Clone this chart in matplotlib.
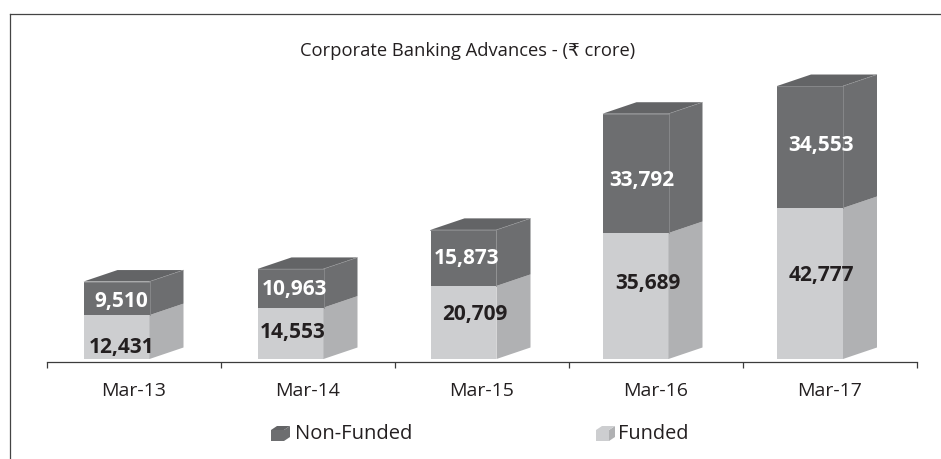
import matplotlib
matplotlib.use('Agg')
import matplotlib.pyplot as plt
from matplotlib.lines import Line2D
from matplotlib.patches import Polygon

W, H = 941, 459

months = ['Mar-13', 'Mar-14', 'Mar-15', 'Mar-16', 'Mar-17']
funded = [12431, 14553, 20709, 35689, 42777]
non_funded = [9510, 10963, 15873, 33792, 34553]

# label offsets from the middle of each segment, pixels
funded_offsets = [(-12, -10), (-15, 1), (-7, 8), (-8, 13), (-9, 8)]
non_funded_offsets = [(-13, -3), (-14, -1), (-15, -1), (-14, -7), (-9, 2)]
# the boxes drift left a little in the original
box_drift = [0, 0, -1, -3, -2.5]

DARK_FRONT = '#6d6e70'
DARK_TOP = '#636466'
LIGHT_FRONT = '#cdced0'
LIGHT_SIDE = '#b0b1b3'
TEXT = '#231f20'

plt.rcParams['font.family'] = ['Open Sans', 'DejaVu Sans']


def fx(px):
    return px / W


def fy(py):
    return 1 - py / H


fig = plt.figure(figsize=(W / 100, H / 100), dpi=100)
ax = fig.add_axes([fx(47), fy(359), fx(870), 345 / H])
px_per_unit = 0.00353
ax.set_xlim(-0.5, 4.5)
ax.set_ylim(0, 345 / px_per_unit)

bar_w = 66 / 174
depth_x = 34 / 174
depth_y = 11.5 / px_per_unit
shift = -17.5 / 174  # the front face sits left of the category centre


def draw_box(i, bottom, height, front, side, top=None):
    centre = i + shift + box_drift[i] / 174
    left = centre - bar_w / 2
    right = left + bar_w
    y1 = bottom + height
    ax.bar(centre, height, bar_w, bottom=bottom, color=front, linewidth=0, zorder=2)
    ax.add_patch(Polygon([(right, bottom), (right + depth_x, bottom + depth_y),
                          (right + depth_x, y1 + depth_y), (right, y1)],
                         facecolor=side, edgecolor='none', zorder=2))
    if top is not None:
        ax.add_patch(Polygon([(left, y1), (right, y1), (right + depth_x, y1 + depth_y),
                              (left + depth_x, y1 + depth_y)],
                             facecolor=top, edgecolor='none', zorder=2))
        # pale edges of the box
        ax.plot([right, right], [bottom, y1], color='#8a8b8d', lw=0.6, zorder=3)
        ax.plot([left, right], [y1, y1], color='#8a8b8d', lw=0.6, zorder=3)
        ax.plot([right, right + depth_x], [y1, y1 + depth_y], color='#9a9b9d', lw=0.5,
                ls=(0, (2, 1)), zorder=3)


for i in range(len(months)):
    draw_box(i, 0, funded[i], LIGHT_FRONT, LIGHT_SIDE)
    draw_box(i, funded[i], non_funded[i], DARK_FRONT, DARK_FRONT, DARK_TOP)
    ax.annotate(f'{funded[i]:,}', (i, funded[i] / 2), xytext=funded_offsets[i],
                textcoords='offset pixels', ha='center', va='center',
                fontsize=15, fontweight='bold', color=TEXT, zorder=4)
    ax.annotate(f'{non_funded[i]:,}', (i, funded[i] + non_funded[i] / 2),
                xytext=non_funded_offsets[i], textcoords='offset pixels',
                ha='center', va='center', fontsize=15, fontweight='bold',
                color='white', zorder=4)

for s in ['top', 'left', 'right']:
    ax.spines[s].set_visible(False)
ax.spines['bottom'].set_position(('outward', 1.8))
ax.spines['bottom'].set_color('#3c3c3c')
ax.spines['bottom'].set_linewidth(0.9)
ax.set_yticks([])
ax.set_xticks([i - 0.5 for i in range(len(months) + 1)])
ax.set_xticklabels([])
ax.tick_params(axis='x', which='major', length=4.3, width=0.9, color='#3c3c3c')
ax.set_xticks(range(len(months)), minor=True)
ax.set_xticklabels(months, minor=True, fontsize=14, color=TEXT)
ax.tick_params(axis='x', which='minor', length=0, pad=15)

# outer frame: left and top edges only
frame = dict(color='#444444', lw=0.9, transform=fig.transFigure)
fig.add_artist(Line2D([fx(9.5), fx(9.5)], [0, fy(14)], **frame))
fig.add_artist(Line2D([fx(9.5), 1], [fy(14), fy(14)], **frame))

fig.text(fx(468), fy(51), 'Corporate Banking Advances - (₹ crore)', ha='center', va='center',
         fontsize=13.2, color=TEXT)


def legend_cube(x0, front, side, top):
    y0 = 441
    w, h, dx, dy = 13, 11, 6, 4
    pts = [
        ([(x0, y0), (x0 + w, y0), (x0 + w, y0 - h), (x0, y0 - h)], front),
        ([(x0 + w, y0), (x0 + w + dx, y0 - dy), (x0 + w + dx, y0 - h - dy), (x0 + w, y0 - h)], side),
        ([(x0, y0 - h), (x0 + w, y0 - h), (x0 + w + dx, y0 - h - dy), (x0 + dx, y0 - h - dy)], top),
    ]
    for corners, colour in pts:
        fig.add_artist(Polygon([(fx(a), fy(b)) for a, b in corners], facecolor=colour,
                               edgecolor='none', transform=fig.transFigure))


legend_cube(271, DARK_FRONT, DARK_FRONT, DARK_TOP)
legend_cube(596, LIGHT_FRONT, LIGHT_SIDE, LIGHT_FRONT)
fig.text(fx(295), fy(434), 'Non-Funded', ha='left', va='center', fontsize=14.5, color=TEXT)
fig.text(fx(618), fy(434), 'Funded', ha='left', va='center', fontsize=14.3, color=TEXT)

fig.savefig('out.png', dpi=100)
